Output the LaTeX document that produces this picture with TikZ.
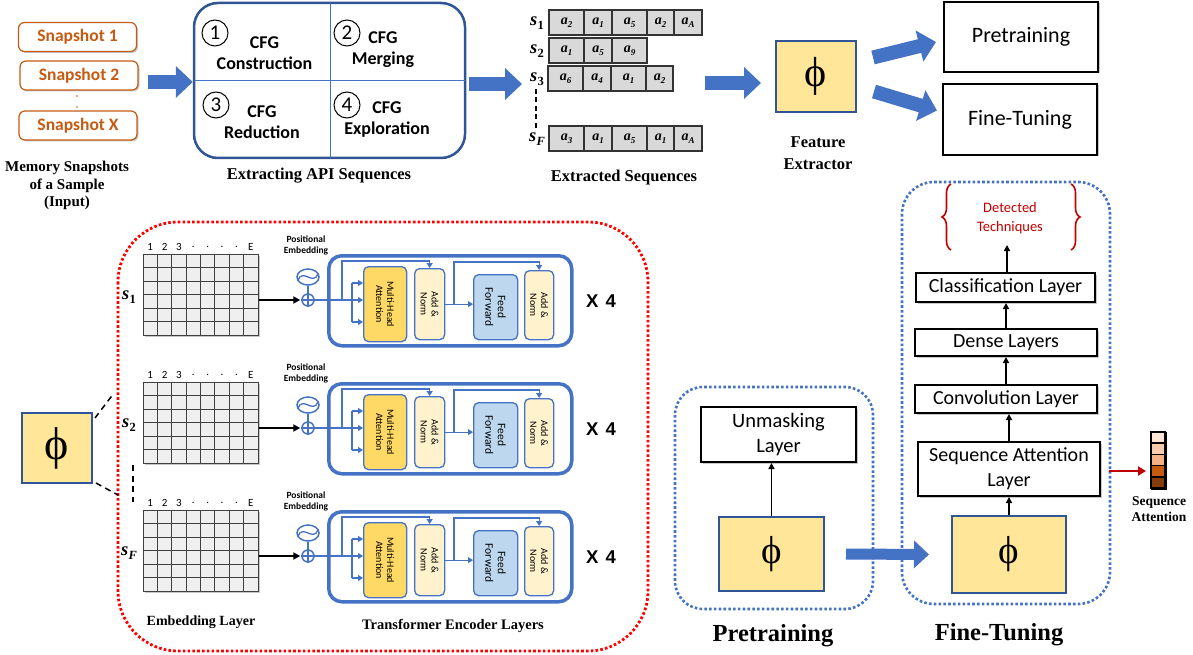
\documentclass[tikz,border=0pt]{standalone}
\usepackage{fontspec}
\setmainfont{Liberation Serif}
\newfontfamily\calib{Carlito}
\newfontfamily\arialf{Liberation Sans}
\usetikzlibrary{arrows.meta,shadows,shapes.geometric,decorations.pathreplacing,calc}

\definecolor{ablue}{HTML}{4472C4}
\definecolor{dblue}{HTML}{2F5597}
\definecolor{phiyel}{HTML}{FFE699}
\definecolor{snaporange}{HTML}{C55A11}
\definecolor{mhaor}{HTML}{FFD966}
\definecolor{addnorm}{HTML}{FFF2CC}
\definecolor{ffblue}{HTML}{BDD7EE}
\definecolor{cellgray}{HTML}{D9D9D9}
\definecolor{gridfill}{HTML}{EFEFEF}
\definecolor{detred}{HTML}{C00000}
\definecolor{dotred}{HTML}{FF0000}
\definecolor{att1}{HTML}{FBE5D6}
\definecolor{att2}{HTML}{F8CBAD}
\definecolor{att3}{HTML}{F4B183}
\definecolor{att4}{HTML}{C55A11}
\definecolor{att5}{HTML}{843C0C}

\newcommand\seqsym[1]{\textbf{\textit{s}}\kern0.3pt\raisebox{-0.45ex}{\fontsize{12.5}{12.5}\selectfont\bfseries #1}}
\newcommand\apisym[1]{\textbf{\textit{a}}\raisebox{-0.4ex}{\fontsize{9}{9}\selectfont\bfseries\itshape #1}}

\tikzset{
  softshadow/.style={drop shadow={shadow xshift=1.5pt,shadow yshift=-1.5pt,fill=black,opacity=0.22}},
  snapbox/.style={draw=snaporange,line width=1.2pt,rounded corners=6pt,fill=white,text=snaporange,
    font=\calib\bfseries\fontsize{17.5}{19}\selectfont,minimum width=118pt,minimum height=29pt,inner sep=0pt,softshadow},
  phibox/.style={draw=dblue,line width=2pt,fill=phiyel,inner sep=0pt},
  bigarr/.style={ablue,line width=14pt,-{Triangle[length=17pt,width=31pt]}},
  layerbox/.style={draw=black,line width=2pt,fill=white,align=center,inner sep=0pt,
    font=\calib\fontsize{20}{24}\selectfont,softshadow},
  caption/.style={font=\bfseries\fontsize{15}{17.5}\selectfont,align=center},
  cfgtext/.style={font=\calib\bfseries\fontsize{18}{21.5}\selectfont,align=center},
  numcirc/.style={circle,draw=black,line width=1pt,minimum size=26pt,inner sep=0pt,font=\calib\fontsize{21}{21}\selectfont},
  apicell/.style={draw=black!80,line width=1.1pt,fill=cellgray},
  apitext/.style={font=\fontsize{14}{14}\selectfont},
  seqlabel/.style={font=\fontsize{18.5}{18.5}\selectfont},
  gridline/.style={black!75,line width=0.9pt},
  colnum/.style={font=\calib\fontsize{11}{11}\selectfont},
  bline/.style={ablue,line width=1.3pt},
  btip/.style={-{Triangle[length=5pt,width=6pt]}},
  encpart/.style={draw=ablue,line width=1.3pt,rounded corners=5pt,inner sep=0pt,anchor=north west},
  enctext/.style={rotate=-90,font=\calib\fontsize{10}{11}\selectfont,align=center},
  karr/.style={black,line width=1.8pt,-{Triangle[length=6pt,width=6pt]}},
  dotregion/.style={line width=2.8pt,dash pattern=on 2.6pt off 2.2pt},
}

% one row of the encoder part: embedding matrix, positional embedding, encoder block
\newcommand\encoderrow[3]{%
\begin{scope}[shift={(0,#1)}]
  \node[draw=black!75,line width=0.9pt,fill=gridfill,anchor=north west,minimum width=115pt,
        minimum height=81pt,inner sep=0pt,softshadow] (grid#2) at (143,0) {};
  \foreach \gi in {1,...,7} \draw[gridline] ({143+\gi*14.375},0) -- ({143+\gi*14.375},81);
  \foreach \gj in {1,...,5} \draw[gridline] (143,{\gj*13.5}) -- (258,{\gj*13.5});
  \foreach \ci/\cl in {1/1,2/2,3/3,4/.,5/.,6/.,7/.,8/E}
    \node[colnum] at ({143+(\ci-0.5)*14.375},-7) {\cl};
  \node[seqlabel] (lab#2) at (129,43) {\seqsym{#3}};
  % positional embedding
  \node[font=\calib\bfseries\fontsize{9.5}{11}\selectfont,align=center] at (306,-9) {Positional\\Embedding};
  \node[ellipse,draw=ablue,line width=1.5pt,minimum width=22pt,minimum height=16pt,inner sep=0pt] (pe#2) at (308,23) {};
  \draw[ablue,line width=1.3pt] ($(pe#2.center)+(-10,3)$) .. controls +(5,-12) and +(-5,12) .. ($(pe#2.center)+(10,-3)$);
  \node[circle,draw=ablue,line width=1.5pt,minimum size=12pt,inner sep=0pt] (plus#2) at (308,46) {};
  \draw[ablue,line width=1.5pt] (plus#2.north) -- (plus#2.south) (plus#2.west) -- (plus#2.east);
  \draw[ablue,line width=1.5pt] (pe#2.south) -- (plus#2.north);
  \draw[black,line width=1.8pt,-{Triangle[length=7pt,width=7pt]},shorten >=1pt] (grid#2.east |- plus#2) -- (plus#2.west);
  % encoder block
  \node[draw=ablue,line width=3.5pt,rounded corners=13pt,anchor=north west,minimum width=243pt,
        minimum height=90pt,inner sep=0pt] (enc#2) at (327,0) {};
  \node[encpart,fill=mhaor,minimum width=43pt,minimum height=75pt] (mha#2) at (363,12) {};
  \node[encpart,fill=addnorm,minimum width=30pt,minimum height=71pt] (ana#2) at (414,14) {};
  \node[encpart,fill=ffblue,minimum width=44pt,minimum height=65pt] (ff#2) at (473,20) {};
  \node[encpart,fill=addnorm,minimum width=29pt,minimum height=69pt] (anb#2) at (524,16) {};
  \node[enctext] at (mha#2.center) {Multi-Head\\Attention};
  \node[enctext] at (ana#2.center) {Add \&\\Norm};
  \node[enctext,font=\calib\fontsize{11.5}{12.5}\selectfont] at (ff#2.center) {Feed\\Forward};
  \node[enctext] at (anb#2.center) {Add \&\\Norm};
  \draw[bline] (plus#2.east) -- (352,46);
  \draw[bline] (352,29) -- (352,68);
  \foreach \yy in {29,46,68} \draw[bline,btip] (352,\yy) -- (mha#2.west |- 0,\yy);
  \draw[bline,btip] (342,46) |- (ana#2.north |- 0,7) -- (ana#2.north);
  \draw[bline,btip] (ana#2.east) -- (ff#2.west |- ana#2.east);
  \draw[bline,btip] (ana#2.east -| 454,0) |- (anb#2.north |- 0,8) -- (anb#2.north);
  \node[font=\arialf\bfseries\fontsize{18.5}{18.5}\selectfont] (rep#2) at (601,47) {X\hspace{7pt}4};
\end{scope}}

\begin{document}
\begin{tikzpicture}[x=1pt,y=-1pt]
\useasboundingbox (0,0) rectangle (1193,655);

% ---------------- memory snapshots ----------------
\node[snapbox] (snap1) at (77.5,37) {Snapshot 1};
\node[snapbox] (snap2) at (79,75.5) {Snapshot 2};
\node[snapbox] (snapx) at (78,125.5) {Snapshot X};
\fill[snaporange] (77,96) circle (0.8) (77,107) circle (0.8);
\node[caption] (memcap) at (67,185.5) {Memory Snapshots\\of a Sample\\(Input)};
\coordinate (snapout) at (148,82);

% ---------------- CFG processing ----------------
\node[draw=dblue,line width=2.5pt,rounded corners=24pt,minimum width=271pt,minimum height=155pt,inner sep=0pt] (cfg) at (329.5,80.5) {};
\draw[ablue,line width=1pt] (330,3) -- (330,158) (194,81) -- (465,81);
\node[numcirc] (n1) at (215,33) {1};
\node[numcirc] (n2) at (347,33) {2};
\node[numcirc] (n3) at (216,105) {3};
\node[numcirc] (n4) at (347,105) {4};
\node[cfgtext] at (264.5,53) {CFG\\Construction};
\node[cfgtext] at (383,49.5) {CFG\\Merging};
\node[cfgtext] at (262,122) {CFG\\Reduction};
\node[cfgtext] at (387,119.5) {CFG\\Exploration};
\node[caption,font=\bfseries\fontsize{16.5}{18}\selectfont] (cfgcap) at (319,176) {Extracting API Sequences};
\draw[bigarr] (snapout) -- (cfg.west |- snapout);

% ---------------- extracted sequences ----------------
\node[seqlabel] (sl1) at (537,23) {\seqsym{1}};
\node[seqlabel] (sl2) at (537,51) {\seqsym{2}};
\node[seqlabel] (sl3) at (537,79) {\seqsym{3}};
\node[seqlabel] (slf) at (537,139) {\seqsym{\textit{F}}};
\foreach \xa/\xb/\sb in {549/584/2,584/612/1,612/647/5,647/674/2,674/702/A}{
  \draw[apicell] (\xa,10) rectangle (\xb,35);
  \node[apitext] at ({(\xa+\xb)/2},22.5) {\apisym{\sb}};}
\foreach \xa/\xb/\sb in {549/584/1,584/612/5,612/647/9}{
  \draw[apicell] (\xa,38) rectangle (\xb,63);
  \node[apitext] at ({(\xa+\xb)/2},50.5) {\apisym{\sb}};}
\foreach \xa/\xb/\sb in {548/583/6,583/611/4,611/646/1,646/673/2}{
  \draw[apicell] (\xa,66) rectangle (\xb,91);
  \node[apitext] at ({(\xa+\xb)/2},78.5) {\apisym{\sb}};}
\foreach \xa/\xb/\sb in {549/584/3,584/612/1,612/647/5,647/674/1,674/702/A}{
  \draw[apicell] (\xa,126) rectangle (\xb,151);
  \node[apitext] at ({(\xa+\xb)/2},138.5) {\apisym{\sb}};}
\draw[black,line width=1.5pt,dash pattern=on 5pt off 3.5pt] (sl3.south) ++(-1,0) -- (536,128);
\node[caption,font=\bfseries\fontsize{16.5}{18}\selectfont] (seqcap) at (624,178) {Extracted Sequences};
\draw[bigarr] ([xshift=3pt]cfg.east |- 0,84) -- (522,84);
\coordinate (seqout) at (705,83);

% ---------------- feature extractor ----------------
\node[phibox,minimum width=80pt,minimum height=71pt,font=\fontsize{42}{42}\selectfont] (phi) at (816,76.5) {ϕ};
\node[caption,font=\bfseries\fontsize{16.5}{22}\selectfont] (phicap) at (818,153) {Feature\\Extractor};
\draw[bigarr] (seqout) -- ([xshift=-14pt]phi.west |- seqout);

\node[layerbox,minimum width=154pt,minimum height=70pt,font=\calib\fontsize{22}{24}\selectfont] (pre) at (1021,37) {Pretraining};
\node[layerbox,minimum width=154pt,minimum height=71pt,font=\calib\fontsize{22}{24}\selectfont] (ft) at (1020,119.5) {Fine-Tuning};
\draw[bigarr] ([shift={(16,-19)}]phi.east) -- ([shift={(-7,5)}]pre.west);
\draw[bigarr] ([shift={(17,15)}]phi.east) -- ([shift={(-5,-9)}]ft.west);

% ---------------- encoder part ----------------
\draw[dotred,dotregion,rounded corners=60pt] (118,222) rectangle (648,651);
\encoderrow{254}{a}{1}
\encoderrow{382}{b}{2}
\encoderrow{510}{c}{\textit{F}}
\node[caption,font=\bfseries\fontsize{14}{16}\selectfont] at (201,622) {Embedding Layer};
\node[caption,font=\bfseries\fontsize{14.5}{16}\selectfont] at (453,626) {Transformer Encoder Layers};

\node[phibox,minimum width=70pt,minimum height=70pt,font=\fontsize{46}{46}\selectfont] (phiL) at (57,448) {ϕ};
\coordinate (dashA) at (114,393);
\coordinate (dashB) at (118,495);
\draw[black,line width=1.5pt,dash pattern=on 6pt off 4.5pt] ([shift={(2,6)}]phiL.north east) -- (dashA);
\draw[black,line width=1.5pt,dash pattern=on 6pt off 4.5pt] ([shift={(3,-1)}]phiL.south east) -- (dashB);
\draw[black,line width=1.5pt,dash pattern=on 6pt off 4.5pt] (133,465) -- (133,502);

% ---------------- pretraining ----------------
\draw[ablue,dotregion,line width=2.6pt,rounded corners=28pt] (675,387) rectangle (873,609);
\node[layerbox,minimum width=155pt,minimum height=55pt,font=\calib\fontsize{20.5}{25}\selectfont] (unmask) at (778.5,434.5) {Unmasking\\Layer};
\node[phibox,minimum width=105pt,minimum height=74pt,font=\fontsize{39}{39}\selectfont] (phiP) at (771.5,554) {ϕ};
\draw[karr] (phiP.north) -- (phiP.north |- unmask.south);
\node[font=\bfseries\fontsize{24.5}{26}\selectfont] (precap) at (773,636) {Pretraining};

% ---------------- fine-tuning ----------------
\draw[ablue,dotregion,line width=2.6pt,rounded corners=32pt] (902,182) rectangle (1110,604);
\node[font=\calib\fontsize{14.5}{19}\selectfont,text=detred,align=center] (det) at (1010,218.5) {Detected\\Techniques};
\draw[detred,line width=1.6pt,decorate,decoration={brace,amplitude=9pt}] (951,250) -- (951,184);
\draw[detred,line width=1.6pt,decorate,decoration={brace,amplitude=9pt}] (1071,184) -- (1071,250);
\node[layerbox,minimum width=179pt,minimum height=29pt] (cls) at (1005.5,287.5) {Classification Layer};
\node[layerbox,minimum width=182pt,minimum height=27pt] (dense) at (1006,342.5) {Dense Layers};
\node[layerbox,minimum width=182pt,minimum height=28pt] (conv) at (1006,399) {Convolution Layer};
\node[layerbox,minimum width=182pt,minimum height=54pt,font=\calib\fontsize{20}{25}\selectfont] (sal) at (1009,469) {Sequence Attention\\Layer};
\node[phibox,minimum width=114pt,minimum height=77pt,font=\fontsize{39}{39}\selectfont] (phiF) at (1009,554.5) {ϕ};
\coordinate (dettip) at (1007,245);
\draw[karr] (phiF.north) -- (phiF.north |- sal.south);
\draw[karr] (sal.north) -- (sal.north |- conv.south);
\draw[karr] (conv.north) -- (conv.north |- dense.south);
\draw[karr] (dense.north) -- (dense.north |- cls.south);
\draw[karr] (cls.north -| dettip) -- (dettip);
\node[font=\bfseries\fontsize{24.5}{26}\selectfont] (ftcap) at (999,635) {Fine-Tuning};

\draw[ablue,line width=11pt,-{Triangle[length=15pt,width=27pt]}] ([xshift=21pt]phiP.east) -- ([xshift=-22pt]phiF.west);

% sequence attention weights
\node[draw=black,line width=1.5pt,minimum width=14pt,minimum height=56pt,inner sep=0pt,anchor=north west] (attbar) at (1151,432) {};
\foreach \k/\cc in {0/att1,1/att2,2/att3,3/att4,4/att5}
  \draw[black,line width=1.5pt,fill=\cc] (1151,{432+\k*11.2}) rectangle (1165,{432+(\k+1)*11.2});
\draw[detred,line width=2pt,-{Triangle[length=8pt,width=9pt]},shorten >=5pt] ([xshift=8pt]sal.east |- 0,471) -- (attbar.west |- 0,471);
\node[caption,font=\bfseries\fontsize{13.5}{16}\selectfont] (attcap) at (1159,509) {Sequence\\Attention};
\end{tikzpicture}
\end{document}
